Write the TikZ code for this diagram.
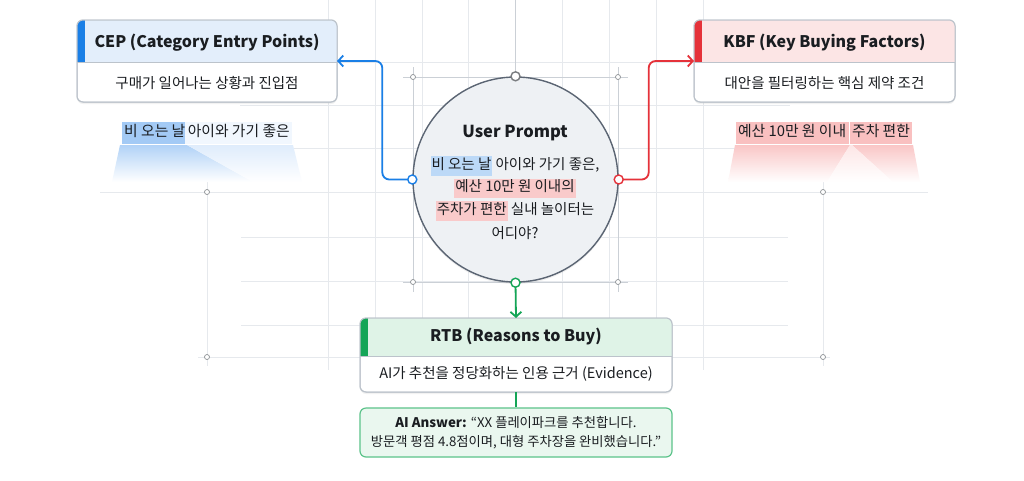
\documentclass[tikz,border=0pt]{standalone}
\usepackage{fontspec}
\setmainfont{Noto Sans CJK KR}
\usetikzlibrary{arrows.meta,shadows}

\definecolor{cepbar}{HTML}{1A7FE6}
\definecolor{cephead}{HTML}{E3EEFB}
\definecolor{kbfbar}{HTML}{E5323A}
\definecolor{kbfhead}{HTML}{FCE5E5}
\definecolor{rtbbar}{HTML}{14A557}
\definecolor{rtbhead}{HTML}{DFF3E7}
\definecolor{answerfill}{HTML}{EAF7EF}
\definecolor{answeredge}{HTML}{5CC38A}
\definecolor{cardedge}{HTML}{BCC3CB}
\definecolor{promptfill}{HTML}{EEF1F4}
\definecolor{promptedge}{HTML}{5B6573}
\definecolor{gridgray}{HTML}{E6E9ED}
\definecolor{guidegray}{HTML}{CBD0D6}
\definecolor{markblue}{HTML}{BCD9F7}
\definecolor{markpink}{HTML}{F9CACA}
\definecolor{tagblue}{HTML}{A3CAF5}
\definecolor{tagpale}{HTML}{F1F7FE}
\definecolor{tagpink}{HTML}{F9C0C0}
\definecolor{inkgray}{HTML}{1A1D21}

\newcommand{\drawgrid}[4]{
\draw[line width=0.8, color=gridgray]
(#1, #2) -- (#3, #4);
}
\newcommand{\drawguide}[4]{
\draw[line width=0.8, color=guidegray]
(#1, #2) -- (#3, #4);
}
\newcommand{\drawhandle}[2]{
\draw[line width=0.7, color=guidegray!70!black, fill=white]
(#1, #2) circle (2.5);
}
\newcommand{\drawcard}[7]{
\node[card, minimum width=#4, minimum height=#5] (#1) at (#2, #3) {};
\begin{scope}
\clip[rounded corners=6] (#1.south west) rectangle (#1.north east);
\fill[color=#7head] (#1.north west) rectangle ([yshift=-#6pt]#1.north east);
\fill[color=#7bar] (#1.north west) rectangle ([xshift=8pt, yshift=-#6pt]#1.north west);
\end{scope}
\draw[color=cardedge, line width=0.8]
([yshift=-#6pt]#1.north west) -- ([yshift=-#6pt]#1.north east);
\draw[color=cardedge, line width=1, rounded corners=6]
(#1.south west) rectangle (#1.north east);
}
\newcommand{\hlblue}[1]{{\setlength{\fboxsep}{1pt}\colorbox{markblue}{\strut#1}}}
\newcommand{\hlpink}[1]{{\setlength{\fboxsep}{1pt}\colorbox{markpink}{\strut#1}}}
\newcommand{\tagblue}[1]{{\setlength{\fboxsep}{2.5pt}\colorbox{tagblue}{\strut#1}}}
\newcommand{\tagpale}[1]{{\setlength{\fboxsep}{2.5pt}\colorbox{tagpale}{\strut#1}}}
\newcommand{\tagpink}[1]{{\setlength{\fboxsep}{2.5pt}\colorbox{tagpink}{\strut#1}}}

\tikzset{
card/.style={draw=cardedge, line width=1, fill=white, rounded corners=6, outer sep=0,
  drop shadow={opacity=0.10, shadow xshift=0pt, shadow yshift=-2pt}},
headtext/.style={inner sep=0, text=inkgray, font=\fontsize{16}{19}\selectfont\bfseries},
bodytext/.style={inner sep=0, text=inkgray, font=\fontsize{14.5}{17}\selectfont},
titletext/.style={inner sep=0, text=inkgray, font=\fontsize{16.5}{19}\selectfont\bfseries},
tagtext/.style={inner sep=0, text=inkgray, font=\fontsize{14.8}{17}\selectfont},
port/.style={circle, draw=#1, fill=white, line width=1.4, minimum size=9, inner sep=0},
flow/.style={line width=1.8, color=#1, rounded corners=7,
  -{Straight Barb[length=5pt, width=11pt]}},
answerbox/.style={draw=answeredge, line width=1.2, fill=answerfill, rounded corners=6,
  align=center, text=inkgray, font=\fontsize{13.3}{19}\selectfont}
}

\begin{document}
\begin{tikzpicture}[x=1pt, y=-1pt]
\useasboundingbox (0, 0) rectangle (1024, 480);
\fill[white] (0, 0) rectangle (1024, 480);

\drawgrid{328}{0}{328}{370}
\drawgrid{375}{0}{375}{370}
\drawgrid{422}{0}{422}{370}
\drawgrid{468}{0}{468}{370}
\drawgrid{562}{0}{562}{370}
\drawgrid{609}{0}{609}{370}
\drawgrid{656}{0}{656}{370}
\drawgrid{703}{0}{703}{370}
\drawgrid{240}{62}{790}{62}
\drawgrid{240}{105}{790}{105}
\drawgrid{240}{148}{790}{148}
\drawgrid{100}{192}{928}{192}
\drawgrid{241}{237}{788}{237}
\drawgrid{241}{281}{788}{281}
\drawgrid{241}{325}{788}{325}
\drawgrid{198}{357}{830}{357}
\drawgrid{207}{182}{207}{366}
\drawgrid{823}{182}{823}{366}

\drawguide{515}{0}{515}{77}
\drawguide{403}{77}{628}{77}
\drawguide{403}{282}{628}{282}
\drawguide{413}{67}{413}{292}
\drawguide{618}{67}{618}{292}

\drawhandle{207}{192}
\drawhandle{823}{192}
\drawhandle{207}{357}
\drawhandle{823}{357}
\drawhandle{413}{77}
\drawhandle{618}{77}
\drawhandle{413}{282}
\drawhandle{618}{282}

\shade[top color=tagblue!85, bottom color=white]
(120, 145) -- (187, 145) -- (253, 182) -- (112, 182) -- cycle;
\shade[top color=tagblue!35, bottom color=white]
(187, 145) -- (293, 145) -- (302, 182) -- (253, 182) -- cycle;
\shade[top color=tagpink!90, bottom color=white]
(735, 145) -- (850, 145) -- (827, 182) -- (728, 182) -- cycle;
\shade[top color=tagpink!90, bottom color=white]
(852, 145) -- (913, 145) -- (920, 182) -- (893, 182) -- cycle;
\shade[top color=tagpink!40, bottom color=white]
(850, 145) -- (852, 145) -- (893, 182) -- (827, 182) -- cycle;

\drawcard{cep}{207}{61}{260}{82}{42}{cep}
\drawcard{kbf}{824.5}{61}{261}{82}{42}{kbf}
\drawcard{rtb}{516}{355}{312}{74}{38}{rtb}

\node[headtext] (cephead) at (207, 43) {CEP (Category Entry Points)};
\node[bodytext] (cepbody) at (207, 83) {구매가 일어나는 상황과 진입점};
\node[headtext] (kbfhead) at (824.5, 43) {KBF (Key Buying Factors)};
\node[bodytext] (kbfbody) at (824.5, 83) {대안을 필터링하는 핵심 제약 조건};
\node[headtext] (rtbhead) at (516, 337) {RTB (Reasons to Buy)};
\node[bodytext] (rtbbody) at (516, 374) {AI가 추천을 정당화하는 인용 근거 (Evidence)};

\node[tagtext] (ceptag) at (207, 133)
{\tagblue{비 오는 날}\hspace{-2.5pt}\tagpale{아이와 가기 좋은}};
\node[tagtext] (kbftag) at (824, 133)
{\tagpink{예산 10만 원 이내}\hspace{1pt}\tagpink{주차 편한}};

\node[answerbox, minimum width=312, minimum height=49] (answer) at (516, 432.5)
{\textbf{AI Answer:} “XX 플레이파크를 추천합니다.\\
방문객 평점 4.8점이며, 대형 주차장을 완비했습니다.”};

\node[circle, minimum size=205, fill=promptfill, draw=promptedge, line width=1.4,
  drop shadow={opacity=0.12, shadow xshift=0pt, shadow yshift=-2pt}] (prompt) at (515.5, 179.5) {};

\node[titletext] (ptitle) at (515, 133) {User Prompt};
\node[bodytext] (pline1) at (515, 166) {\hlblue{비 오는 날} 아이와 가기 좋은,};
\node[bodytext] (pline2) at (515, 188.5) {\hlpink{예산 10만 원 이내의}};
\node[bodytext] (pline3) at (515, 211) {\hlpink{주차가 편한} 실내 놀이터는};
\node[bodytext] (pline4) at (515, 233) {어디야?};

\draw[flow=cepbar] (prompt.west) -- ++(-30, 0) |- (cep.east);
\draw[flow=kbfbar] (prompt.east) -- ++(30, 0) |- (kbf.west);
\draw[flow=rtbbar] (prompt.south) -- (rtb.north);
\draw[line width=1.8, color=rtbbar] (rtb.south) -- (answer.north);

\node[port=guidegray!60!black] (ptop) at (prompt.north) {};
\node[port=cepbar] (pleft) at (prompt.west) {};
\node[port=kbfbar] (pright) at (prompt.east) {};
\node[port=rtbbar] (pbottom) at (prompt.south) {};

\end{tikzpicture}
\end{document}
